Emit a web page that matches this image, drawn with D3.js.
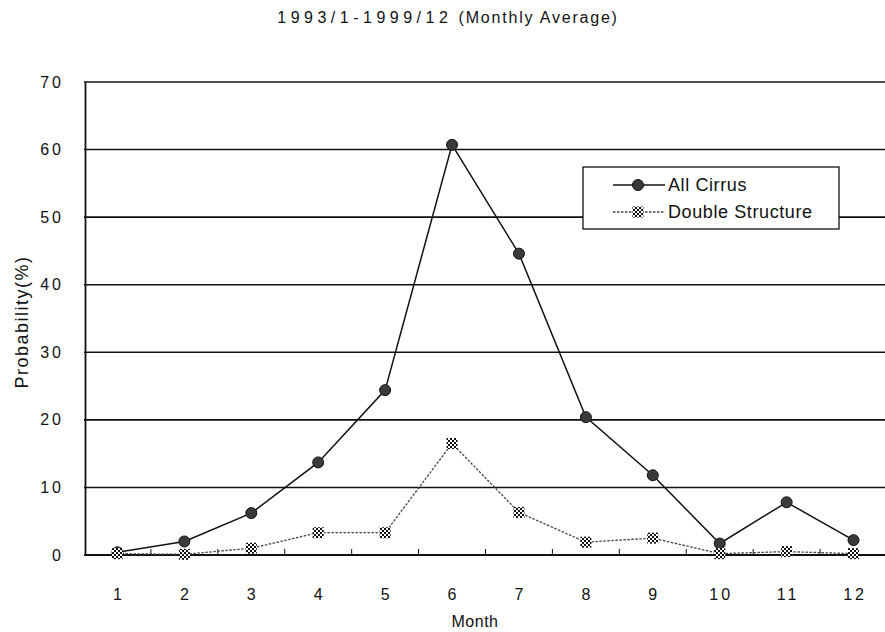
<!DOCTYPE html>
<html>
<head>
<meta charset="utf-8">
<script src="https://cdn.jsdelivr.net/npm/d3@7"></script>
<style>
  body { margin: 0; background: #fff; }
  text { font-family: "Liberation Sans", Arial, sans-serif; fill: #111; }
</style>
</head>
<body>
<script>
var width = 885;
var height = 632;

// data
var months = [1, 2, 3, 4, 5, 6, 7, 8, 9, 10, 11, 12];
var allCirrus = [0.4, 2.0, 6.2, 13.7, 24.4, 60.7, 44.6, 20.4, 11.8, 1.7, 7.8, 2.2];
var doubleStructure = [0.2, 0.1, 1.0, 3.3, 3.3, 16.5, 6.3, 1.9, 2.5, 0.2, 0.5, 0.2];
var yTicks = [0, 10, 20, 30, 40, 50, 60, 70];

var svg = d3.select("body").append("svg")
  .attr("width", width).attr("height", height);

// checker fill for the double structure markers
var defs = svg.append("defs");
var pat = defs.append("pattern").attr("id", "hatch")
  .attr("width", 4).attr("height", 4)
  .attr("patternUnits", "userSpaceOnUse");
pat.append("rect").attr("width", 4).attr("height", 4).attr("fill", "#fff");
pat.append("rect").attr("width", 2).attr("height", 2).attr("fill", "#111");
pat.append("rect").attr("x", 2).attr("y", 2).attr("width", 2).attr("height", 2).attr("fill", "#111");

var x = d3.scaleBand().domain(months).range([84, 887]);
var y = d3.scaleLinear().domain([0, 70]).range([555, 82]);
var cx = function (d, i) { return x(months[i]) + x.bandwidth() / 2; };

// title
var title = svg.append("text").attr("x", 448).attr("y", 23)
  .attr("text-anchor", "middle").style("font-size", "16px");
title.append("tspan").style("letter-spacing", "4.5px").text("1993/1-1999/12");
title.append("tspan").style("letter-spacing", "1.8px").text(" (Monthly Average)");

// horizontal grid lines
svg.append("g").selectAll("line").data(yTicks.filter(function (d) { return d > 0; })).enter()
  .append("line")
  .attr("x1", 84).attr("x2", 887)
  .attr("y1", function (d) { return y(d); }).attr("y2", function (d) { return y(d); })
  .attr("stroke", "#111").attr("stroke-width", 1.6);

// y axis
var yAxis = svg.append("g").attr("transform", "translate(85,0)")
  .call(d3.axisLeft(y).tickValues(yTicks).tickSize(0).tickPadding(21));
yAxis.select(".domain").attr("stroke", "#111").attr("stroke-width", 1.8);
yAxis.selectAll("text").style("font-size", "16px").style("letter-spacing", "3px")
  .style("font-family", "'Liberation Sans', Arial, sans-serif").attr("fill", "#111");

// x axis, ticks between categories pointing up
var xg = svg.append("g");
xg.append("line").attr("x1", 84).attr("x2", 887).attr("y1", y(0)).attr("y2", y(0))
  .attr("stroke", "#111").attr("stroke-width", 2);
xg.selectAll("line.tick").data(months.slice(1)).enter().append("line")
  .attr("class", "tick")
  .attr("x1", function (d) { return x(d); }).attr("x2", function (d) { return x(d); })
  .attr("y1", y(0)).attr("y2", y(0) - 6)
  .attr("stroke", "#111").attr("stroke-width", 1);
xg.selectAll("text").data(months).enter().append("text")
  .attr("x", function (d) { return x(d) + x.bandwidth() / 2 + 1.5; })
  .attr("y", 600).attr("text-anchor", "middle")
  .style("font-size", "16px").style("letter-spacing", "3px")
  .text(function (d) { return d; });

// axis titles
svg.append("text").attr("x", 475).attr("y", 627).attr("text-anchor", "middle")
  .style("font-size", "16px").style("letter-spacing", "0.5px").text("Month");
svg.append("text").attr("transform", "translate(28,322) rotate(-90)")
  .attr("text-anchor", "middle").style("font-size", "18px").style("letter-spacing", "1.5px")
  .text("Probability(%)");

// lines
var line = d3.line().x(cx).y(function (d) { return y(d); });

svg.append("path").datum(allCirrus).attr("d", line)
  .attr("fill", "none").attr("stroke", "#111").attr("stroke-width", 1.5);
svg.append("path").datum(doubleStructure).attr("d", line)
  .attr("fill", "none").attr("stroke", "#444").attr("stroke-width", 1.3)
  .attr("stroke-dasharray", "2.5,1.5");

// markers
svg.append("g").selectAll("circle").data(allCirrus).enter().append("circle")
  .attr("cx", cx).attr("cy", function (d) { return y(d); }).attr("r", 5.5)
  .attr("fill", "#3a3a3a").attr("stroke", "#111").attr("stroke-width", 1);
svg.append("g").selectAll("rect").data(doubleStructure).enter().append("rect")
  .attr("x", function (d, i) { return cx(d, i) - 5.5; })
  .attr("y", function (d) { return y(d) - 5.5; })
  .attr("width", 11).attr("height", 11)
  .attr("fill", "url(#hatch)");

// legend
var lg = svg.append("g").attr("transform", "translate(583,167)");
lg.append("rect").attr("width", 256).attr("height", 62)
  .attr("fill", "#fff").attr("stroke", "#111").attr("stroke-width", 1.3);
lg.append("line").attr("x1", 30).attr("x2", 82).attr("y1", 18).attr("y2", 18)
  .attr("stroke", "#111").attr("stroke-width", 1.5);
lg.append("circle").attr("cx", 55).attr("cy", 18).attr("r", 5.5)
  .attr("fill", "#3a3a3a").attr("stroke", "#111");
lg.append("line").attr("x1", 30).attr("x2", 82).attr("y1", 45).attr("y2", 45)
  .attr("stroke", "#444").attr("stroke-width", 1.3).attr("stroke-dasharray", "2.5,1.5");
lg.append("rect").attr("x", 49.5).attr("y", 39.5).attr("width", 11).attr("height", 11)
  .attr("fill", "url(#hatch)");
lg.append("text").attr("x", 85).attr("y", 24).style("font-size", "18px")
  .style("letter-spacing", "0.6px").text("All Cirrus");
lg.append("text").attr("x", 85).attr("y", 51).style("font-size", "18px")
  .style("letter-spacing", "0.6px").text("Double Structure");
</script>
</body>
</html>
